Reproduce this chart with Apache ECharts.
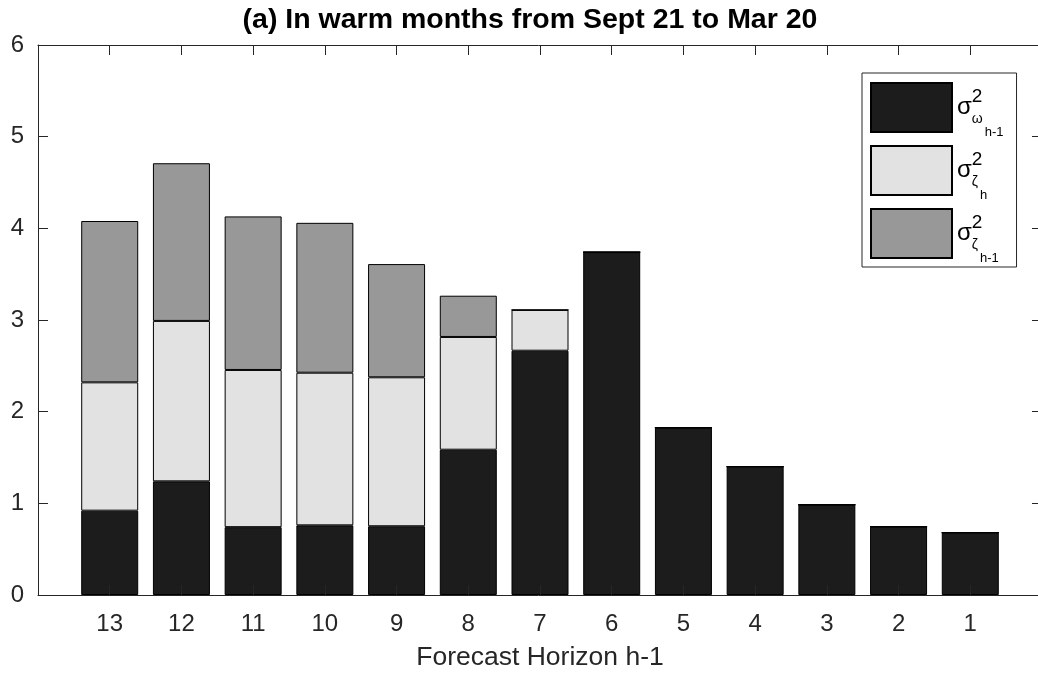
<!DOCTYPE html>
<html>
<head>
<meta charset="utf-8">
<script src="https://cdn.jsdelivr.net/npm/echarts@6/dist/echarts.min.js"></script>
<style>
  html, body { margin: 0; padding: 0; background: #fff; }
  #chart { width: 1038px; height: 677px; }
</style>
</head>
<body>
<div id="chart"></div>
<script>
// Forecast horizons, left to right
const horizons = ['13', '12', '11', '10', '9', '8', '7', '6', '5', '4', '3', '2', '1'];
// Variance components per horizon (stacked bottom to top)
const omegaPrev = [0.92, 1.24, 0.74, 0.76, 0.75, 1.585, 2.665, 3.74, 1.825, 1.40, 0.985, 0.745, 0.68];
const zetaH     = [1.40, 1.75, 1.715, 1.665, 1.625, 1.23, 0.445, 0, 0, 0, 0, 0, 0];
const zetaPrev  = [1.76, 1.72, 1.675, 1.635, 1.235, 0.45, 0, 0, 0, 0, 0, 0, 0];
// Value-axis ticks
const yTicks = [0, 1, 2, 3, 4, 5, 6];

const FONT = "'Liberation Sans', Arial, Helvetica, sans-serif";
const INK = '#262626';

// Half-slot of empty space at each end of the horizon axis: one blank
// category on either side, with points (not bands) as category positions.
const axisCategories = [''].concat(horizons, ['']);
const padded = vals => ['-'].concat(vals, ['-']);

const seriesDefs = [
  { name: 'omegaPrev', data: omegaPrev, color: '#1c1c1c', label: '{s|σ}{sup|2}{sub|ω}{ss|h-1}' },
  { name: 'zetaH',     data: zetaH,     color: '#e2e2e2', label: '{s|σ}{sup|2}{sub|ζ}{ss|h}' },
  { name: 'zetaPrev',  data: zetaPrev,  color: '#989898', label: '{s|σ}{sup|2}{sub|ζ}{ss|h-1}' }
];
const legendText = {};
seriesDefs.forEach(d => { legendText[d.name] = d.label; });

const xCommon = {
  type: 'category',
  data: axisCategories,
  boundaryGap: false,
  splitLine: { show: false },
  axisLine: { show: true, onZero: false, lineStyle: { color: INK, width: 1 } },
  axisTick: { show: true, inside: true, length: 10, interval: 0, lineStyle: { color: INK, width: 1 } },
  z: 5
};
const yCommon = {
  type: 'value',
  min: yTicks[0],
  max: yTicks[yTicks.length - 1],
  interval: yTicks[1] - yTicks[0],
  splitLine: { show: false },
  axisLine: { show: true, lineStyle: { color: INK, width: 1 } },
  axisTick: { show: true, inside: true, length: 10, lineStyle: { color: INK, width: 1 } },
  z: 5
};

const chart = echarts.init(document.getElementById('chart'), null, { renderer: 'canvas' });

chart.setOption({
  animation: false,
  backgroundColor: '#fff',
  title: {
    text: '(a) In warm months from Sept 21 to Mar 20',
    left: 530,
    top: 6,
    textAlign: 'center',
    padding: 0,
    textStyle: { fontFamily: FONT, fontSize: 28.5, fontWeight: 'bold', color: '#000' }
  },
  grid: { left: 38, right: -4, top: 45, bottom: 82, containLabel: false, outerBoundsMode: 'none' },
  xAxis: [
    Object.assign({}, xCommon, {
      position: 'bottom',
      name: 'Forecast Horizon h-1',
      nameLocation: 'middle',
      nameGap: 49,
      nameTextStyle: { fontFamily: FONT, fontSize: 26.5, color: INK },
      axisLabel: { show: true, interval: 0, margin: 17, fontFamily: FONT, fontSize: 24, color: INK }
    }),
    Object.assign({}, xCommon, { position: 'top', axisLabel: { show: false } })
  ],
  yAxis: [
    Object.assign({}, yCommon, {
      position: 'left',
      axisLabel: { show: true, margin: 14, fontFamily: FONT, fontSize: 24, color: INK }
    }),
    Object.assign({}, yCommon, { position: 'right', axisLabel: { show: false } })
  ],
  legend: {
    orient: 'vertical',
    left: 862,
    top: 73,
    padding: [9, 13, 2, 8],
    itemWidth: 81,
    itemHeight: 49,
    itemGap: 6,
    icon: 'rect',
    selectedMode: false,
    backgroundColor: '#fff',
    borderColor: INK,
    borderWidth: 1,
    borderRadius: 0,
    data: seriesDefs.map(d => d.name),
    formatter: name => legendText[name],
    textStyle: {
      color: '#000',
      fontFamily: FONT,
      width: 50,
      rich: {
        s:   { fontFamily: FONT, fontSize: 24, color: '#000', lineHeight: 44, verticalAlign: 'top', padding: [10, 0, 0, 0] },
        sup: { fontFamily: FONT, fontSize: 19, color: '#000', lineHeight: 44, verticalAlign: 'top', padding: [1.4, 0, 0, 0], width: 0 },
        sub: { fontFamily: FONT, fontSize: 14, color: '#000', lineHeight: 44, verticalAlign: 'top', padding: [27, 0, 0, 0] },
        ss:  { fontFamily: FONT, fontSize: 13, color: '#000', lineHeight: 44, verticalAlign: 'top', padding: [40.5, 0, 0, 2] }
      }
    }
  },
  series: seriesDefs.map(d => ({
    type: 'bar',
    name: d.name,
    stack: 'variance',
    xAxisIndex: 0,
    yAxisIndex: 0,
    barWidth: 57,
    data: padded(d.data),
    itemStyle: { color: d.color, borderColor: '#000', borderWidth: 1 },
    emphasis: { disabled: true },
    z: 2
  }))
});
</script>
</body>
</html>
